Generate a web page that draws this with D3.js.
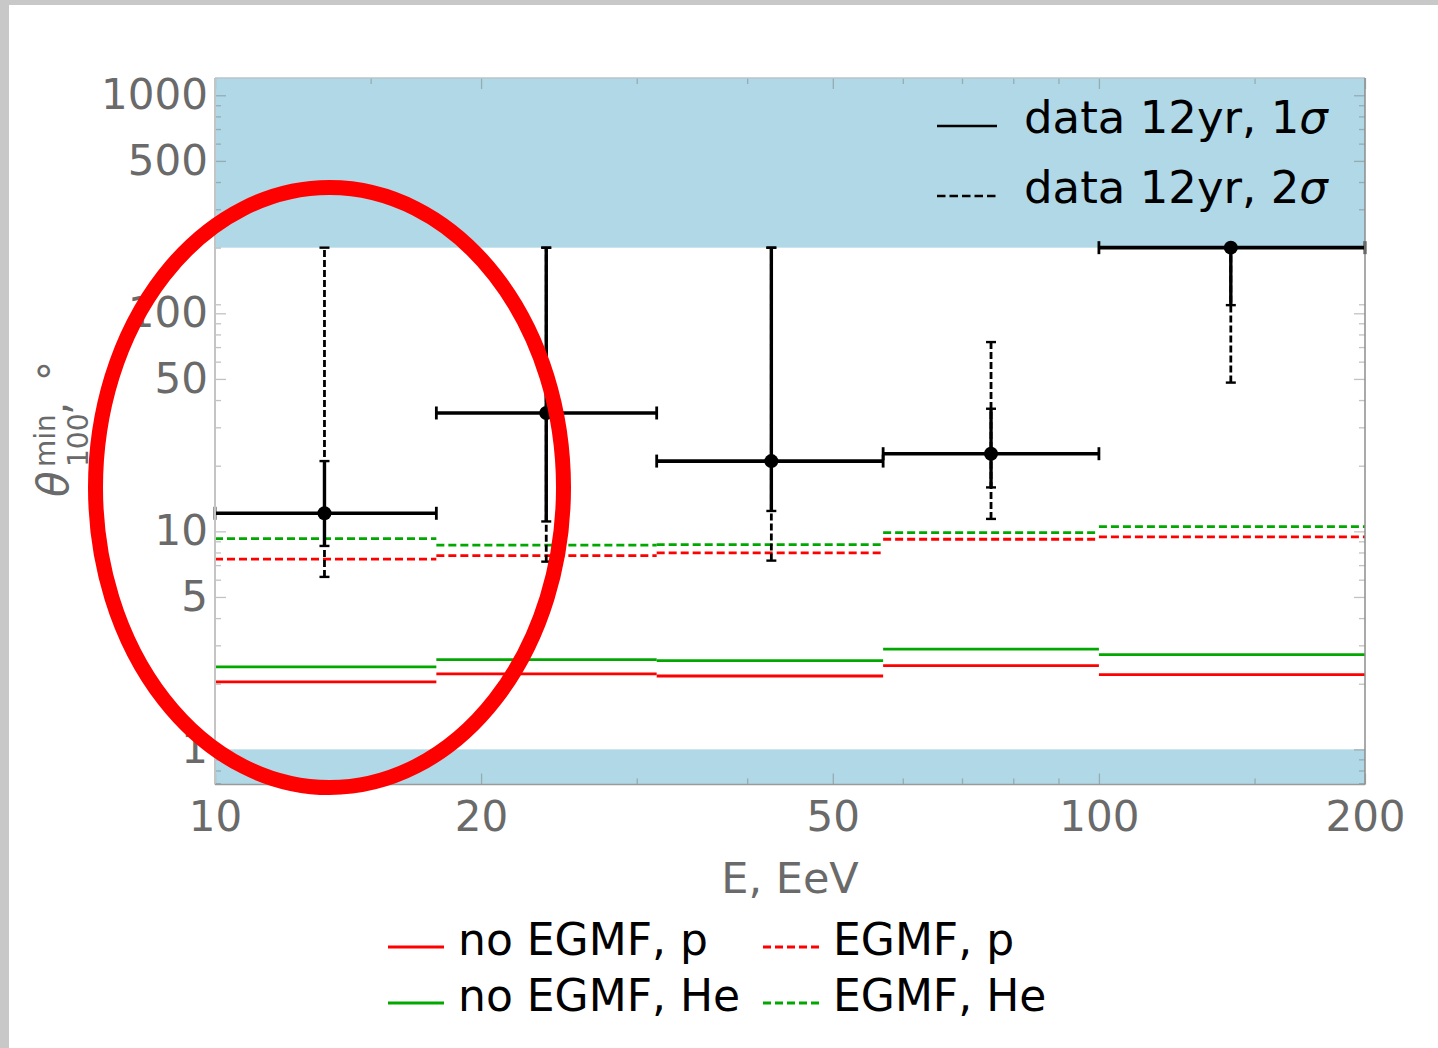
<!DOCTYPE html>
<html>
<head>
<meta charset="utf-8">
<script src="https://cdn.jsdelivr.net/npm/d3@7"></script>
<style>
  body { margin: 0; background: #fff; }
  svg { display: block; font-family: "DejaVu Sans", sans-serif; }
</style>
</head>
<body>
<svg id="chart" width="1438" height="1048"></svg>
<script>
// ---- data -------------------------------------------------------------
const binEdges   = [10, 17.8, 31.6, 57, 100, 200];      // energy bins, EeV
const energies   = [13.3, 23.7, 42.6, 75.5, 141];       // mean energy in each bin
const theta      = [12.1, 34.9, 21.0, 22.7, 200];       // measured θ_min, deg
const sigma1Lo   = [8.57, 11.1, 12.4, 15.9, 109];
const sigma1Hi   = [21.0, 200, 200, 36.5, 200];
const sigma2Lo   = [6.18, 7.26, 7.34, 11.4, 48.1];
const sigma2Hi   = [200, 200, 200, 73.8, 200];

const noEgmfP    = [2.04, 2.22, 2.17, 2.42, 2.20];
const noEgmfHe   = [2.39, 2.58, 2.55, 2.88, 2.72];
const egmfP      = [7.45, 7.74, 7.96, 9.20, 9.43];
const egmfHe     = [9.26, 8.64, 8.69, 9.86, 10.5];

const xMajorTicks = [10, 20, 50, 100, 200];
const xMinorTicks = [15, 30, 40, 60, 70, 80, 90, 150];
const yMajorTicks = [1, 5, 10, 50, 100, 500, 1000];
const yMinorTicks = [0.7, 0.8, 0.9, 2, 3, 4, 6, 7, 8, 9, 20, 30, 40, 60, 70, 80, 90, 110,
                     200, 300, 400, 600, 700, 800, 900];
const allowedRange = [1, 200];                          // physical θ window, outside is shaded

const models = [
  { name: "no EGMF, p",  values: noEgmfP,  color: "#ff0000", dash: null },
  { name: "EGMF, p",     values: egmfP,    color: "#ff0000", dash: "8,4" },
  { name: "no EGMF, He", values: noEgmfHe, color: "#00a800", dash: null },
  { name: "EGMF, He",    values: egmfHe,   color: "#00a800", dash: "8,4" }
];

// ---- layout -----------------------------------------------------------
const W = 1438, H = 1048;
const plot = { left: 215, right: 1365, top: 78, bottom: 784.5 };
const svg = d3.select("#chart");

// slide-style border around the figure
svg.append("rect").attr("width", W).attr("height", H).attr("fill", "#c8c8c8");
svg.append("rect").attr("x", 9).attr("y", 5).attr("width", W - 9).attr("height", H - 5).attr("fill", "#fff");

const x = d3.scaleLog().domain([10, 200]).range([plot.left, plot.right]);
const y = d3.scaleLog().domain([0.69, 1200]).range([plot.bottom, plot.top]);

const defs = svg.append("defs");
defs.append("clipPath").attr("id", "plotClip")
  .append("rect").attr("x", plot.left).attr("y", plot.top)
  .attr("width", plot.right - plot.left).attr("height", plot.bottom - plot.top);

// shaded regions outside the allowed θ window
const bands = svg.append("g").attr("clip-path", "url(#plotClip)");
bands.append("rect")
  .attr("x", plot.left).attr("width", plot.right - plot.left)
  .attr("y", y(1200)).attr("height", y(allowedRange[1]) - y(1200))
  .attr("fill", "#b0d8e6");
bands.append("rect")
  .attr("x", plot.left).attr("width", plot.right - plot.left)
  .attr("y", y(allowedRange[0])).attr("height", y(0.69) - y(allowedRange[0]))
  .attr("fill", "#b0d8e6");

// ---- ticks (inward, on all four sides) --------------------------------
const tickColor = "rgba(120,120,120,0.45)";
const labelColor = "#6a6a6a";

function styleAxis(g) {
  g.select(".domain").remove();
  g.selectAll(".tick line").attr("stroke", tickColor).attr("stroke-width", 1.3);
  g.selectAll(".tick text").attr("fill", labelColor).attr("font-size", 42)
    .attr("font-family", "DejaVu Sans, sans-serif");
}

svg.append("g").attr("transform", `translate(0,${plot.bottom})`)
  .call(d3.axisBottom(x).tickValues(xMajorTicks).tickFormat(d3.format("d")).tickSize(-11).tickPadding(17))
  .call(styleAxis);
svg.append("g").attr("transform", `translate(0,${plot.bottom})`)
  .call(d3.axisBottom(x).tickValues(xMinorTicks).tickFormat("").tickSize(-6))
  .call(styleAxis);
svg.append("g").attr("transform", `translate(0,${plot.top})`)
  .call(d3.axisTop(x).tickValues(xMajorTicks).tickFormat("").tickSize(-11))
  .call(styleAxis);
svg.append("g").attr("transform", `translate(0,${plot.top})`)
  .call(d3.axisTop(x).tickValues(xMinorTicks).tickFormat("").tickSize(-6))
  .call(styleAxis);

svg.append("g").attr("transform", `translate(${plot.left},0)`)
  .call(d3.axisLeft(y).tickValues(yMajorTicks).tickFormat(d3.format("d")).tickSize(-11).tickPadding(7))
  .call(styleAxis);
svg.append("g").attr("transform", `translate(${plot.left},0)`)
  .call(d3.axisLeft(y).tickValues(yMinorTicks).tickFormat("").tickSize(-6))
  .call(styleAxis);
svg.append("g").attr("transform", `translate(${plot.right},0)`)
  .call(d3.axisRight(y).tickValues(yMajorTicks).tickFormat("").tickSize(-11))
  .call(styleAxis);
svg.append("g").attr("transform", `translate(${plot.right},0)`)
  .call(d3.axisRight(y).tickValues(yMinorTicks).tickFormat("").tickSize(-6))
  .call(styleAxis);

// ---- model predictions (one flat segment per energy bin) --------------
const modelLayer = svg.append("g").attr("clip-path", "url(#plotClip)");
models.forEach(m => {
  m.values.forEach((v, i) => {
    modelLayer.append("line")
      .attr("x1", x(binEdges[i])).attr("x2", x(binEdges[i + 1]))
      .attr("y1", y(v)).attr("y2", y(v))
      .attr("stroke", m.color)
      .attr("stroke-width", 2.8)
      .attr("stroke-dasharray", m.dash);
  });
});

// ---- measured points with 1σ / 2σ error bars --------------------------
const dataLayer = svg.append("g");
const capHalf = 5;

energies.forEach((e, i) => {
  const cx = x(e);
  // 2σ, dashed
  dataLayer.append("line")
    .attr("x1", cx).attr("x2", cx)
    .attr("y1", y(sigma2Lo[i])).attr("y2", y(sigma2Hi[i]))
    .attr("stroke", "#000").attr("stroke-width", 2.8).attr("stroke-dasharray", "7,3");
  [sigma2Lo[i], sigma2Hi[i]].forEach(v => {
    dataLayer.append("line")
      .attr("x1", cx - capHalf).attr("x2", cx + capHalf)
      .attr("y1", y(v)).attr("y2", y(v))
      .attr("stroke", "#000").attr("stroke-width", 2.4);
  });
  // 1σ, solid
  dataLayer.append("line")
    .attr("x1", cx).attr("x2", cx)
    .attr("y1", y(sigma1Lo[i])).attr("y2", y(sigma1Hi[i]))
    .attr("stroke", "#000").attr("stroke-width", 3.4);
  [sigma1Lo[i], sigma1Hi[i]].forEach(v => {
    dataLayer.append("line")
      .attr("x1", cx - capHalf).attr("x2", cx + capHalf)
      .attr("y1", y(v)).attr("y2", y(v))
      .attr("stroke", "#000").attr("stroke-width", 2.4);
  });
  // energy bin width
  const x0 = x(binEdges[i]), x1 = x(binEdges[i + 1]), cy = y(theta[i]);
  dataLayer.append("line")
    .attr("x1", x0).attr("x2", x1).attr("y1", cy).attr("y2", cy)
    .attr("stroke", "#000").attr("stroke-width", 3.6);
  [x0, x1].forEach(xx => {
    dataLayer.append("line")
      .attr("x1", xx).attr("x2", xx).attr("y1", cy - 6.5).attr("y2", cy + 6.5)
      .attr("stroke", "#000").attr("stroke-width", 2.8);
  });
  dataLayer.append("circle").attr("cx", cx).attr("cy", cy).attr("r", 7).attr("fill", "#000");
});

// ---- frame ------------------------------------------------------------
const frame = svg.append("g").attr("fill", "none");
frame.append("line").attr("x1", plot.left).attr("x2", plot.left)
  .attr("y1", plot.top).attr("y2", plot.bottom).attr("stroke", "#c4c4c4").attr("stroke-width", 2);
frame.append("line").attr("x1", plot.left).attr("x2", plot.right)
  .attr("y1", plot.top).attr("y2", plot.top).attr("stroke", "#b8c4c8").attr("stroke-width", 1.5);
frame.append("line").attr("x1", plot.right).attr("x2", plot.right)
  .attr("y1", plot.top).attr("y2", plot.bottom).attr("stroke", "#8c8c8c").attr("stroke-width", 1.5);
frame.append("line").attr("x1", plot.left).attr("x2", plot.right)
  .attr("y1", plot.bottom).attr("y2", plot.bottom).attr("stroke", "#9a9a9a").attr("stroke-width", 1.5);

// ---- axis titles ------------------------------------------------------
svg.append("text")
  .attr("x", (plot.left + plot.right) / 2).attr("y", 893)
  .attr("text-anchor", "middle").attr("font-size", 43).attr("fill", labelColor)
  .text("E, EeV");

const yTitle = svg.append("g").attr("transform", "translate(68,497) rotate(-90)")
  .attr("fill", labelColor);
yTitle.append("text").attr("x", 0).attr("y", 0).attr("font-size", 42)
  .attr("font-style", "italic").text("θ");
yTitle.append("text").attr("x", 30).attr("y", -13).attr("font-size", 28).text("min");
yTitle.append("text").attr("x", 30).attr("y", 20).attr("font-size", 28).text("100");
yTitle.append("text").attr("x", 82).attr("y", 0).attr("font-size", 42).text(",");
yTitle.append("text").attr("x", 116).attr("y", 0).attr("font-size", 40).text("°");

// ---- legend: data ------------------------------------------------------
const dataLegend = [
  { label: "data 12yr, 1", dash: null },
  { label: "data 12yr, 2", dash: "8.5,4" }
];
dataLegend.forEach((d, i) => {
  const ly = 126 + i * 70;
  svg.append("line").attr("x1", 937).attr("x2", 997).attr("y1", ly).attr("y2", ly)
    .attr("stroke", "#000").attr("stroke-width", 2.4).attr("stroke-dasharray", d.dash);
  const t = svg.append("text").attr("x", 1024).attr("y", ly + 7)
    .attr("font-size", 45).attr("fill", "#000");
  t.append("tspan").text(d.label);
  t.append("tspan").attr("font-style", "italic").text("σ");
});

// ---- legend: models ----------------------------------------------------
const legendCols = [388, 763];
models.forEach((m, i) => {
  const col = i % 2, row = Math.floor(i / 2);
  const lx = legendCols[col], ly = 947 + row * 56;
  svg.append("line").attr("x1", lx).attr("x2", lx + 56).attr("y1", ly).attr("y2", ly)
    .attr("stroke", m.color).attr("stroke-width", 2.8).attr("stroke-dasharray", m.dash);
  svg.append("text").attr("x", lx + 70).attr("y", ly + 8)
    .attr("font-size", 44).attr("fill", "#000").text(m.name);
});

// ---- highlight annotation ---------------------------------------------
svg.append("ellipse")
  .attr("cx", 329.5).attr("cy", 487.5).attr("rx", 234).attr("ry", 300)
  .attr("fill", "none").attr("stroke", "#ff0000").attr("stroke-width", 15);
</script>
</body>
</html>
